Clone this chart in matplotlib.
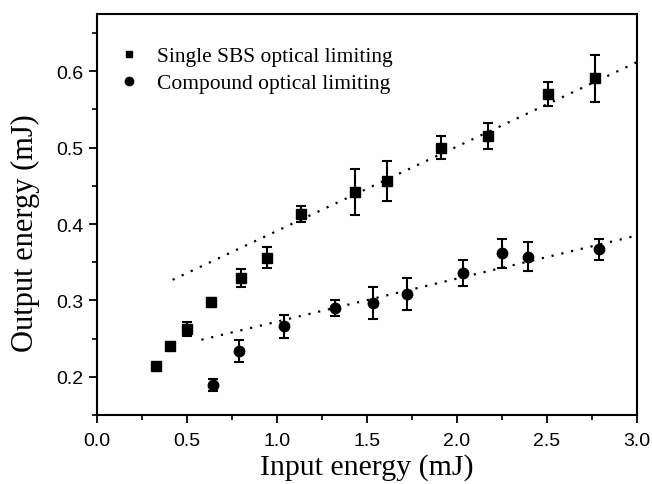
import matplotlib.pyplot as plt
from matplotlib.lines import Line2D
from matplotlib.ticker import MultipleLocator

# Single SBS optical limiting (squares)
sbs_x = [0.326, 0.404, 0.50, 0.636, 0.798, 0.946, 1.133, 1.432, 1.611, 1.909, 2.174, 2.504, 2.767]
sbs_y = [0.214, 0.240, 0.263, 0.298, 0.329, 0.356, 0.413, 0.442, 0.456, 0.500, 0.515, 0.570, 0.591]
sbs_err = [0.004, 0.005, 0.009, 0.005, 0.012, 0.014, 0.010, 0.030, 0.026, 0.015, 0.017, 0.016, 0.031]

# Compound optical limiting (circles)
comp_x = [0.644, 0.789, 1.039, 1.322, 1.533, 1.724, 2.033, 2.252, 2.396, 2.787]
comp_y = [0.189, 0.234, 0.266, 0.290, 0.297, 0.308, 0.336, 0.362, 0.357, 0.367]
comp_err = [0.008, 0.014, 0.015, 0.011, 0.021, 0.021, 0.017, 0.019, 0.019, 0.014]

# dotted fit lines (end points)
sbs_fit_x = [0.42, 3.0]
sbs_fit_y = [0.327, 0.612]
comp_fit_x = [0.58, 3.0]
comp_fit_y = [0.2485, 0.385]

serif = ['Liberation Serif', 'DejaVu Serif']
sans = ['Liberation Sans', 'DejaVu Sans']

fig = plt.figure(figsize=(6.52, 4.85), dpi=100)
ax = fig.add_axes([0.1488, 0.1423, 0.8282, 0.8267])

ax.plot(sbs_fit_x, sbs_fit_y, color='black', linestyle=(0, (1, 3.5)), linewidth=1.6)
ax.plot(comp_fit_x, comp_fit_y, color='black', linestyle=(0, (1, 3.5)), linewidth=1.6)

ax.errorbar(sbs_x, sbs_y, yerr=sbs_err, fmt='s', color='black', markersize=6.5,
            capsize=3.5, elinewidth=1.5, capthick=1.5)
ax.errorbar(comp_x, comp_y, yerr=comp_err, fmt='o', color='black', markersize=7.5,
            capsize=3.5, elinewidth=1.5, capthick=1.5)

ax.set_xlim(0, 3.0)
ax.set_ylim(0.15, 0.675)
ax.xaxis.set_major_locator(MultipleLocator(0.5))
ax.xaxis.set_minor_locator(MultipleLocator(0.25))
ax.yaxis.set_major_locator(MultipleLocator(0.1))
ax.yaxis.set_minor_locator(MultipleLocator(0.05))
ax.tick_params(which='major', direction='out', length=6, width=1.3, top=False, right=False, pad=4)
ax.tick_params(axis='x', which='major', pad=6)
ax.tick_params(which='minor', direction='out', length=3.5, width=1.2, top=False, right=False)
for s in ax.spines.values():
    s.set_linewidth(1.5)

for lab in ax.get_xticklabels() + ax.get_yticklabels():
    lab.set_family(sans)
    lab.set_fontsize(14)

ax.set_xlabel('Input energy (mJ)', fontfamily=serif, fontsize=21.5, labelpad=3.5)
ax.set_ylabel('Output energy (mJ)', fontfamily=serif, fontsize=22)
ax.yaxis.set_label_coords(-0.105, 0.456)

# legend: markers only
handles = [Line2D([], [], linestyle='none', marker='s', color='black', markersize=5),
           Line2D([], [], linestyle='none', marker='o', color='black', markersize=6)]
labels = ['Single SBS optical limiting', 'Compound optical limiting']
ax.legend(handles, labels, loc='upper left', bbox_to_anchor=(0.04, 0.92), frameon=False,
          prop={'family': serif, 'size': 15.5}, handlelength=1.0, handletextpad=0.8,
          borderpad=0, borderaxespad=0, labelspacing=0.32)

fig.savefig('out.png', dpi=100)
